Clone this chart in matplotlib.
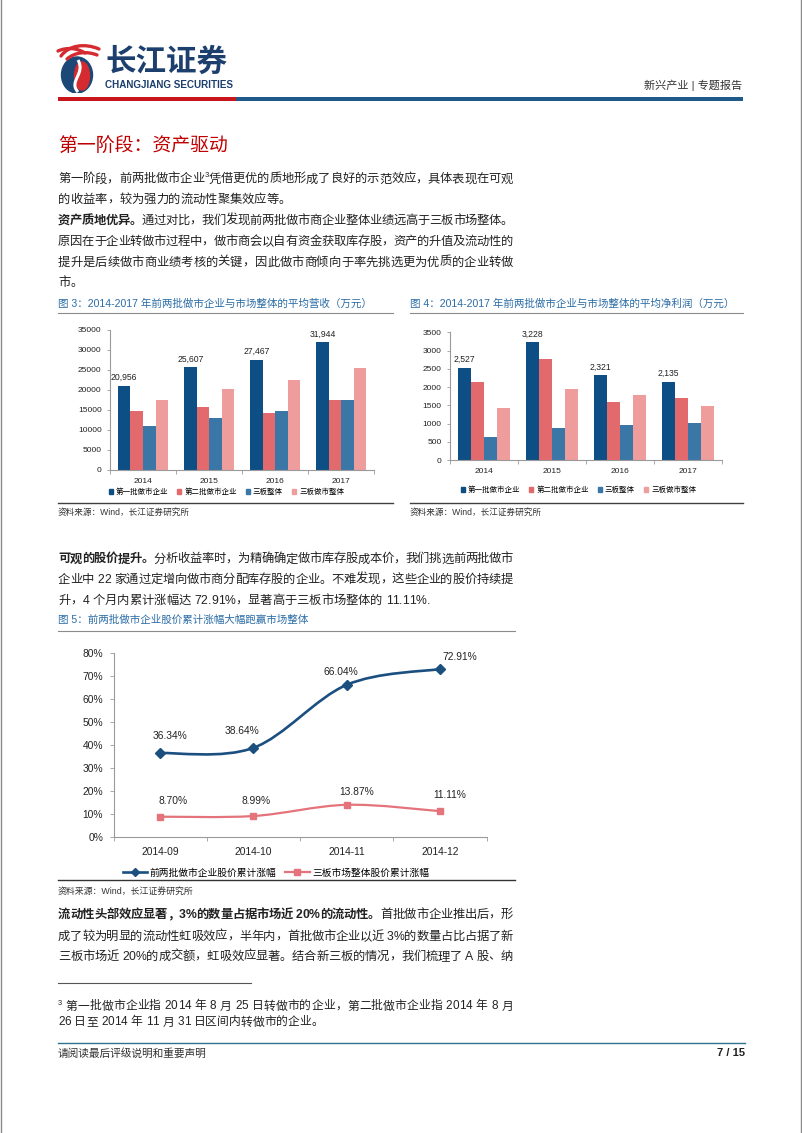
import numpy as np
import matplotlib.pyplot as plt
from matplotlib.font_manager import FontProperties
from matplotlib.patches import Rectangle, Ellipse, PathPatch, Patch
from matplotlib.lines import Line2D
from matplotlib.path import Path

FAM = ['Liberation Sans', 'Noto Sans CJK SC']
plt.rcParams['font.family'] = FAM

W, H = 802, 1133
PX = 100 / 72  # pixels per point

# ---- data ----
years = ['2014', '2015', '2016', '2017']
legend_names = ['第一批做市企业', '第二批做市企业', '三板整体', '三板做市整体']
bar_colors = ['#0D4E84', '#E36A6C', '#3A77A7', '#EE9C9C']

revenue_batch1 = [20956, 25607, 27467, 31944]
revenue_batch2 = [14800, 15800, 14100, 17500]
revenue_board = [11000, 12900, 14800, 17400]
revenue_mm = [17500, 20100, 22500, 25600]

profit_batch1 = [2527, 3228, 2321, 2135]
profit_batch2 = [2145, 2770, 1590, 1710]
profit_board = [630, 885, 960, 1005]
profit_mm = [1415, 1935, 1790, 1470]

months = ['2014-09', '2014-10', '2014-11', '2014-12']
rise_batches = [36.34, 38.64, 66.04, 72.91]
rise_market = [8.70, 8.99, 13.87, 11.11]
rise_names = ['前两批做市企业股价累计涨幅', '三板市场整体股价累计涨幅']

BLUE = '#1A4F80'
PINK = '#E4737B'
CAP = '#2B6CA6'
AXC = '#9A9A9A'

fig = plt.figure(figsize=(W / 100, H / 100), dpi=100)
renderer = fig.canvas.get_renderer()


def fx(x):
    return x / W


def fy(y):
    return 1 - y / H


def hline(x0, x1, y, color, lw=0.8):
    fig.add_artist(Line2D([fx(x0), fx(x1)], [fy(y), fy(y)], color=color, lw=lw))


def add_ax(l, t, r, b):
    return fig.add_axes([fx(l), fy(b), (r - l) / W, (b - t) / H])


def txt(x, y, s, size, color='#222222', ha='left', va='center', weight='normal'):
    fig.text(fx(x), fy(y), s, fontsize=size, color=color, ha=ha, va=va, weight=weight)


def width_px(s, fp):
    return renderer.get_text_width_height_descent(s, fp, ismath=False)[0]


def draw_line(x, cy, runs, size=8.85, right=None, color='#222222'):
    em = size * PX
    base = cy + 0.38 * em
    chars = []
    for s, style in runs:
        if style == 'sup':
            fp = FontProperties(family=FAM, size=size * 0.62)
            dy = -0.4 * em
        else:
            fp = FontProperties(family=FAM, size=size,
                                weight='bold' if style == 'b' else 'normal')
            dy = 0
        ref = width_px('xx', fp)
        for ch in s:
            chars.append((ch, fp, dy, width_px('x' + ch + 'x', fp) - ref))
    natural = sum(c[3] for c in chars)
    gap = (right - x - natural) / (len(chars) - 1) if right else 0
    for ch, fp, dy, adv in chars:
        if ch != ' ':
            fig.text(fx(x), fy(base + dy), ch, fontproperties=fp, color=color,
                     ha='left', va='baseline')
        x += adv + gap


# ---- page frame ----
for xb in (0.5, 800.5):
    fig.add_artist(Line2D([fx(xb), fx(xb)], [0, 1], color='#8A8A8A', lw=1))

# ---- header ----
lax = add_ax(55, 40, 105, 93)
lax.set_xlim(0, 50)
lax.set_ylim(53, 0)
lax.axis('off')
lax.add_patch(Ellipse((22, 35), 31, 36, color='#1B4877'))
lax.add_patch(Ellipse((27, 36), 15, 28, color='#D52B30'))
lax.add_patch(PathPatch(Path([(23, 52), (13, 41), (31, 34), (23, 20)],
                             [Path.MOVETO, Path.CURVE4, Path.CURVE4, Path.CURVE4]),
                        fill=False, edgecolor='white', lw=2.2))
for p in ([(6, 16), (14, 5), (30, 3), (44, 9)],
          [(3, 11), (12, 7), (22, 8), (30, 13)],
          [(12, 19), (20, 12), (32, 11), (42, 15)]):
    lax.add_patch(PathPatch(Path(p, [Path.MOVETO, Path.CURVE4, Path.CURVE4, Path.CURVE4]),
                            fill=False, edgecolor='#D52B30', lw=2.4, capstyle='round'))

txt(105, 62.5, '长江证券', 22, color='#1C3F6E', weight='bold')
txt(105, 85, 'CHANGJIANG SECURITIES', 7.1, color='#1C3F6E', weight='bold')
txt(742, 85, '新兴产业 | 专题报告', 8, color='#333333', ha='right')
fig.add_artist(Rectangle((fx(58), fy(100.5)), fx(236) - fx(58), 4 / H, color='#C8161D', lw=0))
fig.add_artist(Rectangle((fx(236), fy(100.5)), fx(743) - fx(236), 4 / H, color='#1F5A8A', lw=0))

# ---- section title and first paragraphs ----
txt(58, 147, '第一阶段：资产驱动', 13.6, color='#C00000')
R = 513
draw_line(58, 177.7, [('第一阶段，前两批做市企业', 'n'), ('3', 'sup'),
                      ('凭借更优的质地形成了良好的示范效应，具体表现在可观', 'n')], right=R)
draw_line(58, 198.3, [('的收益率，较为强力的流动性聚集效应等。', 'n')])
draw_line(58, 219.3, [('资产质地优异。', 'b'),
                      ('通过对比，我们发现前两批做市商企业整体业绩远高于三板市场整体。', 'n')], right=R)
draw_line(58, 240, [('原因在于企业转做市过程中，做市商会以自有资金获取库存股，资产的升值及流动性的', 'n')], right=R)
draw_line(58, 261, [('提升是后续做市商业绩考核的关键，因此做市商倾向于率先挑选更为优质的企业转做', 'n')], right=R)
draw_line(58, 281.7, [('市。', 'n')])

# ---- figure 3 & 4 captions / frames ----
txt(58, 303.3, '图 3：2014-2017 年前两批做市企业与市场整体的平均营收（万元）', 7.6, color=CAP)
txt(410, 303.3, '图 4：2014-2017 年前两批做市企业与市场整体的平均净利润（万元）', 7.6, color=CAP)
hline(58, 393, 313, '#8C8C8C')
hline(410, 743, 313, '#8C8C8C')
hline(58, 393, 503, '#404040', 1)
hline(410, 743, 503, '#404040', 1)
txt(58, 512.5, '资料来源：Wind，长江证券研究所', 6.2, color='#333333')
txt(410, 512.5, '资料来源：Wind，长江证券研究所', 6.2, color='#333333')


def bar_chart(box, series, ymax, step, label_pad, leg_x, leg_y):
    ax = add_ax(*box)
    x = np.arange(len(years))
    w = 0.19
    for k, (vals, c) in enumerate(zip(series, bar_colors)):
        ax.bar(x + (k - 1.5) * w, vals, width=w, color=c, linewidth=0)
    for xi, v in zip(x, series[0]):
        ax.annotate(f'{v:,}', (xi - 1.5 * w, v), xytext=(0, 6), textcoords='offset points',
                    ha='center', va='center', fontsize=6.2, color='#222222')
    ax.set_xlim(-0.5, 3.5)
    ax.set_ylim(0, ymax)
    yt = list(range(0, ymax + 1, step))
    ax.set_yticks(yt, [str(v) for v in yt])
    ax.set_xticks(x, years)
    ax.set_xticks(np.arange(-0.5, 4, 1), minor=True)
    for s in ('top', 'right'):
        ax.spines[s].set_visible(False)
    for s in ('left', 'bottom'):
        ax.spines[s].set_color(AXC)
        ax.spines[s].set_linewidth(0.8)
    ax.tick_params(axis='y', length=2.5, width=0.6, color=AXC, labelsize=6, pad=3.5,
                   labelcolor='#222222')
    ax.tick_params(axis='x', which='major', length=0, labelsize=6, pad=label_pad,
                   labelcolor='#222222')
    ax.tick_params(axis='x', which='minor', length=3, width=0.6, color=AXC)
    handles = [Patch(color=c) for c in bar_colors]
    fig.legend(handles, legend_names, loc='center left',
               bbox_to_anchor=(fx(leg_x), fy(leg_y)), ncol=4, frameon=False,
               fontsize=5.4, handlelength=0.55, handleheight=0.55, handletextpad=0.4,
               columnspacing=1.2, borderpad=0, borderaxespad=0)
    return ax


bar_chart((110, 330, 374.4, 469.7),
          [revenue_batch1, revenue_batch2, revenue_board, revenue_mm],
          35000, 5000, 6.0, 108.5, 492.5)
bar_chart((450, 332.3, 722, 460),
          [profit_batch1, profit_batch2, profit_board, profit_mm],
          3500, 500, 5.5, 460.5, 490.5)

# ---- second paragraph ----
draw_line(58, 557.7, [('可观的股价提升。', 'b'),
                      ('分析收益率时，为精确确定做市库存股成本价，我们挑选前两批做市', 'n')], right=R)
draw_line(58, 578.3, [('企业中 22 家通过定增向做市商分配库存股的企业。不难发现，这些企业的股价持续提', 'n')], right=R)
draw_line(58, 599, [('升，4 个月内累计涨幅达 72.91%，显著高于三板市场整体的 11.11%.', 'n')])

txt(58, 619.3, '图 5：前两批做市企业股价累计涨幅大幅跑赢市场整体', 7.6, color=CAP)
hline(58, 515, 631, '#8C8C8C')
hline(58, 515, 880, '#333333', 1)
txt(58, 892, '资料来源：Wind，长江证券研究所', 6.4, color='#333333')


def smooth_path(xs, ys):
    pts = np.column_stack([xs, ys]).astype(float)
    n = len(pts)
    verts = [pts[0]]
    codes = [Path.MOVETO]
    for i in range(n - 1):
        p_prev = pts[max(i - 1, 0)]
        p_next = pts[min(i + 2, n - 1)]
        verts += [pts[i] + (pts[i + 1] - p_prev) / 6,
                  pts[i + 1] - (p_next - pts[i]) / 6,
                  pts[i + 1]]
        codes += [Path.CURVE4] * 3
    return Path(verts, codes)


ax5 = add_ax(113.5, 652.7, 486.7, 836.7)
xm = np.arange(len(months))
ax5.add_patch(PathPatch(smooth_path(xm, rise_batches), fill=False, edgecolor=BLUE, lw=1.9))
ax5.add_patch(PathPatch(smooth_path(xm, rise_market), fill=False, edgecolor=PINK, lw=1.6))
ax5.plot(xm, rise_batches, ls='none', marker='D', ms=5, color=BLUE)
ax5.plot(xm, rise_market, ls='none', marker='s', ms=4.2, color=PINK)
off_batches = [(10, 17), (-11.7, 17), (-5.7, 13), (20, 12)]
off_market = [(13, 16), (3, 15.3), (10, 13), (10, 16)]
for vals, offs in ((rise_batches, off_batches), (rise_market, off_market)):
    for xi, v, (dx, dy) in zip(xm, vals, offs):
        ax5.annotate(f'{v:.2f}%', (xi, v), xytext=(dx * 0.72, dy * 0.72),
                     textcoords='offset points', ha='center', va='center',
                     fontsize=7.4, color='#222222')
ax5.set_xlim(-0.5, 3.5)
ax5.set_ylim(0, 80)
yt5 = list(range(0, 81, 10))
ax5.set_yticks(yt5, [f'{v}%' for v in yt5])
ax5.set_xticks(xm, months)
ax5.set_xticks(np.arange(-0.5, 4, 1), minor=True)
for s in ('top', 'right'):
    ax5.spines[s].set_visible(False)
for s in ('left', 'bottom'):
    ax5.spines[s].set_color(AXC)
    ax5.spines[s].set_linewidth(0.8)
ax5.tick_params(axis='y', length=3, width=0.6, color=AXC, labelsize=7.4, pad=4.5,
                labelcolor='#222222')
ax5.tick_params(axis='x', which='major', length=0, labelsize=7.4, pad=7.4, labelcolor='#222222')
ax5.tick_params(axis='x', which='minor', length=3, width=0.6, color=AXC)
h5 = [Line2D([], [], color=BLUE, lw=1.9, marker='D', ms=4.5),
      Line2D([], [], color=PINK, lw=1.6, marker='s', ms=4)]
fig.legend(h5, rise_names, loc='center left', bbox_to_anchor=(fx(123), fy(872.7)), ncol=2,
           frameon=False, fontsize=7, handlelength=2.5, handletextpad=0.25,
           columnspacing=0.9, borderpad=0, borderaxespad=0)

# ---- third paragraph ----
draw_line(58, 913.3, [('流动性头部效应显著，3%的数量占据市场近 20%的流动性。', 'b'),
                      ('首批做市企业推出后，形', 'n')], right=R)
draw_line(58, 935, [('成了较为明显的流动性虹吸效应，半年内，首批做市企业以近 3%的数量占比占据了新', 'n')], right=R)
draw_line(58, 955, [('三板市场近 20%的成交额，虹吸效应显著。结合新三板的情况，我们梳理了 A 股、纳', 'n')], right=R)

# ---- footnote ----
hline(58, 251, 983, '#555555', 0.8)
draw_line(58, 1005, [('3', 'sup'),
                     (' 第一批做市企业指 2014 年 8 月 25 日转做市的企业，第二批做市企业指 2014 年 8 月', 'n')],
          size=8.5, right=R)
draw_line(58, 1021, [('26 日至 2014 年 11 月 31 日区间内转做市的企业。', 'n')], size=8.5)

# ---- footer ----
hline(58, 745, 1043, '#2E7191', 1)
txt(58, 1053.5, '请阅读最后评级说明和重要声明', 7.7, color='#333333')
txt(745, 1053.5, '7 / 15', 8, color='#222222', ha='right', weight='bold')

fig.savefig('out.png', dpi=100)
